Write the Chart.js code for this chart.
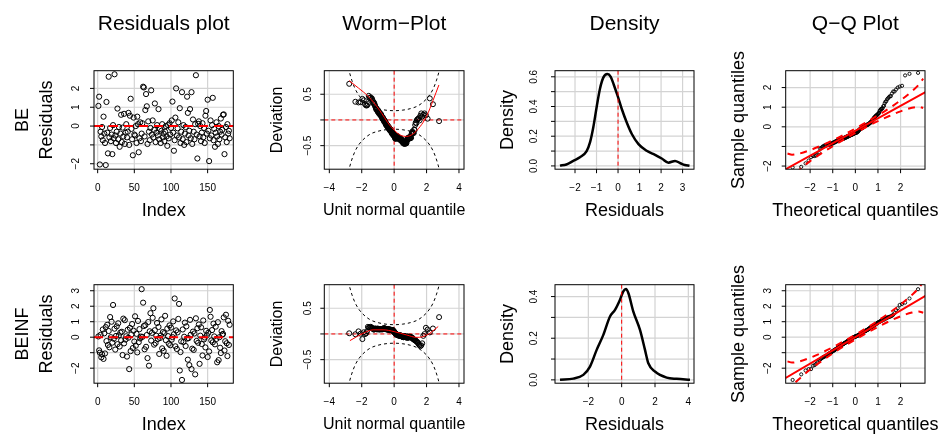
<!DOCTYPE html>
<html>
<head>
<meta charset="utf-8">
<script src="https://cdn.jsdelivr.net/npm/chart.js@4.4.1/dist/chart.umd.min.js"></script>
<style>
  html, body { margin: 0; padding: 0; background: #fff; }
  #wrap { position: relative; width: 941px; height: 435px; overflow: hidden; }
  #wrap canvas { position: absolute; left: 0; top: 0; }
</style>
</head>
<body>
<div id="wrap"></div>
<script>
// Residual diagnostics for the BE and BEINF fits (4 plots per row)

const W = 941, H = 435;
const FONT = "'Liberation Sans', Arial, Helvetica, sans-serif";
const GRID = '#d3d3d3';

// ---- residuals, in index order ----
const residBE = [
  1.07, 1.56, -2.04, -0.3, -0.55, -0.05, -0.75, 0.5, -0.4, -0.9,
  -2.07, 1.28, -0.35, -1.45, 2.62, -0.6, -0.1, -0.8, -0.45, -1.49,
  0.05, -0.65, 2.75, -0.5, -0.9, -0.3, 0.93, -0.7, -0.05, -1.1,
  -0.4, 0.6, -0.85, -0.08, -0.55, 0.65, -0.95, -0.35, 0.1, -0.6,
  -0.3, 0.7, -1.0, 0.55, 1.45, -0.15, -0.7, -1.55, 0.45, -0.45,
  -0.5, 0.0, -0.9, 0.5, 0.1, -1.39, -0.65, 0.2, -0.8, -0.4,
  0.15, 2.09, 2.05, -0.55, 0.85, 1.7, 1.05, -0.95, 0.25, -0.3,
  -0.75, -0.1, 1.9, -0.45, 0.3, -0.6, -0.2, 1.2, -0.85, -0.35,
  0.05, -0.5, 0.9, -0.7, -0.15, -0.9, -0.25, 0.1, -0.6, -0.4,
  -0.8, -0.3, 0.0, -0.55, -1.05, 0.05, -0.65, 0.15, -0.45, -0.1,
  0.3, 1.3, -0.35, -1.31, -0.75, 0.45, 2.0, -0.5, -0.12, 0.2,
  -0.6, 0.95, -0.9, -0.3, 1.8, -0.7, 0.05, -1.0, -0.4, -0.05,
  -0.85, 1.56, 0.7, -0.5, -0.25, 0.9, -0.65, 1.8, -0.95, 0.35,
  -0.3, -0.7, 0.1, 2.7, -0.45, -1.72, 0.12, 0.25, -0.55, 0.0,
  -0.8, -0.35, 0.15, -0.6, -0.1, -0.9, 0.55, 0.8, -0.4, 1.4,
  -0.25, -1.86, -0.65, 0.3, -0.5, 0.05, 1.5, -0.75, -0.15, -1.1,
  -0.35, 0.2, -0.55, -0.95, 0.0, -0.7, -0.3, 0.4, -0.45, -0.2,
  0.6, 0.62, -1.49, -0.6, -0.05, -0.85, 0.1, -0.4, -0.25, -0.65
];
const residBEINF = [
  0.05, -0.85, -1.0, 0.15, -1.3, -1.1, 0.5, -1.4, 0.25, -1.05,
  0.65, -0.25, 0.8, -0.5, 0.4, -0.65, 1.3, 0.0, 1.0, -0.35,
  2.08, -0.1, 0.55, -0.8, 0.08, 0.7, -0.45, 0.9, 0.12, -0.6,
  0.3, -0.2, 0.35, -1.15, 1.2, -0.4, 1.1, -0.15, 0.06, -1.25,
  0.48, -0.03, -2.06, 0.6, -0.9, 0.18, 0.85, -0.7, 0.42, -0.28,
  1.35, -0.55, 0.22, -0.98, 1.05, -0.32, 0.52, -0.08, 0.04, 3.1,
  0.02, 2.23, 0.72, -0.78, 0.78, -0.62, 0.14, -1.35, 0.98, -1.84,
  0.38, 1.55, -0.22, 0.28, 1.25, 1.87, -0.48, 0.45, -0.38, 0.09,
  0.92, -0.12, 0.66, -1.08, -0.05, 0.11, 1.15, -0.72, 0.33, -0.88,
  0.26, 1.38, -0.19, -1.2, 0.56, 0.07, -0.42, 0.76, -0.52, 0.62,
  -0.16, 0.01, 1.02, 0.19, 2.5, -0.59, 0.44, -0.76, 0.31, 1.18,
  2.15, -2.15, -0.96, -0.27, -2.76, 0.5, -0.31, 0.03, 0.94, -0.57,
  0.7, -0.09, -1.45, -0.06, -1.8, 1.12, 0.16, -2.06, -0.74, 0.36,
  -0.82, 0.24, -2.4, 1.22, -0.24, 0.58, -0.36, 0.82, -1.72, 0.1,
  0.64, -0.44, -1.18, 1.08, -0.14, -0.02, -0.66, 0.41, 0.13, -1.28,
  0.29, -0.92, 1.76, 1.32, -0.21, 0.46, -0.33, 0.88, 0.05, -0.46,
  0.68, -0.11, -1.62, 0.97, -1.48, 0.0, -0.68, -1.02, 0.39, 0.17,
  0.21, 1.28, -0.86, -0.26, 1.45, -0.39, -1.22, 1.06, -0.5, 0.8
];

// ---- kernel density curves ----
const densBE_x = [-2.70, -2.40, -2.08, -1.77, -1.46, -1.30, -1.15, -0.99, -0.84, -0.68, -0.50, -0.34, -0.19,
  -0.03, 0.17, 0.40, 0.64, 0.95, 1.33, 1.72, 2.03, 2.34, 2.65, 2.90, 3.10, 3.32];
const densBE_y = [0.002, 0.010, 0.034, 0.058, 0.100, 0.160, 0.260, 0.400, 0.520, 0.596, 0.618, 0.600, 0.543,
  0.476, 0.385, 0.294, 0.215, 0.147, 0.102, 0.075, 0.050, 0.022, 0.034, 0.018, 0.006, 0.001];
const densBEINF_x = [-3.70, -2.90, -2.30, -1.90, -1.50, -1.10, -0.70, -0.40, -0.10, 0.10, 0.26, 0.40, 0.70,
  1.10, 1.40, 1.60, 2.00, 2.70, 3.30, 4.10];
const densBEINF_y = [0.001, 0.006, 0.024, 0.064, 0.144, 0.216, 0.304, 0.336, 0.385, 0.425, 0.436, 0.417, 0.328,
  0.240, 0.144, 0.080, 0.040, 0.011, 0.005, 0.001];

// ---- worm plot: confidence band and fitted cubic ----
const wormBandX = [-3.0, -2.8, -2.6, -2.4, -2.2, -2.0, -1.5, -1.0, -0.5, 0, 0.5, 1.0, 1.5, 2.0, 2.2, 2.4, 2.6, 2.8, 3.0];
const wormBandUpper = [1.25, 0.98, 0.76, 0.6, 0.49, 0.41, 0.28, 0.22, 0.19, 0.18, 0.19, 0.22, 0.28, 0.41, 0.49, 0.6, 0.76, 0.98, 1.25];
const wormBandLower = [-1.25, -0.98, -0.76, -0.6, -0.49, -0.41, -0.28, -0.22, -0.19, -0.18, -0.19, -0.22, -0.28, -0.41, -0.49, -0.6, -0.76, -0.98, -1.25];
const wormFitBE_x = [-2.78, -2.2, -1.6, -0.9, -0.3, 0.35, 0.77, 1.17, 1.6, 2.0, 2.4, 2.76];
const wormFitBE_y = [0.765, 0.62, 0.46, 0.19, -0.09, -0.29, -0.32, -0.27, -0.13, 0.07, 0.38, 0.68];
const wormFitBEINF_x = [-2.73, -1.91, -1.3, -0.68, 0, 0.77, 1.38, 1.79, 2.2, 2.72];
const wormFitBEINF_y = [-0.13, 0.013, 0.08, 0.08, 0.046, -0.02, -0.066, -0.053, 0.013, 0.145];

// ---- Q-Q reference line and envelope ----
const qqLineX = [-3.1, 3.1];
const qqLineBE_y = [-2.17, 1.77];
const qqLineBEINF_y = [-2.65, 2.67];
const qqEnvX = [-3, -2.8, -2.5, -2, -1.5, -1, -0.5, 0, 0.5, 1, 1.5, 2, 2.5, 2.8, 3];
const qqEnvBE_upper = [-1.36, -1.42, -1.37, -1.19, -0.95, -0.69, -0.40, -0.085, 0.24, 0.59, 0.95, 1.35, 1.81, 2.14, 2.46];
const qqEnvBE_lower = [-2.86, -2.54, -2.21, -1.75, -1.35, -0.99, -0.64, -0.315, 0.0, 0.29, 0.55, 0.79, 0.97, 1.02, 0.96];
const qqEnvBEINF_upper = [-1.56, -1.64, -1.57, -1.33, -1.01, -0.65, -0.25, 0.165, 0.60, 1.07, 1.57, 2.11, 2.73, 3.16, 3.58];
const qqEnvBEINF_lower = [-3.56, -3.14, -2.71, -2.09, -1.55, -1.05, -0.58, -0.145, 0.27, 0.67, 1.03, 1.35, 1.59, 1.66, 1.58];

// ---- axis ticks and their labels ('' = tick without label) ----
const indexTicks = [0, 50, 100, 150];
const indexLabels = ['0', '50', '100', '150'];
const residTicksBE = [-2, -1, 0, 1, 2];
const residLabelsBE = ['\u22122', '', '0', '1', '2'];
const residTicksBEINF = [-2, -1, 0, 1, 2, 3];
const residLabelsBEINF = ['\u22122', '', '0', '1', '2', '3'];
const wormXTicks = [-4, -2, 0, 2, 4];
const wormXLabels = ['\u22124', '\u22122', '0', '2', '4'];
const wormYTicks = [-0.5, 0, 0.5];
const wormYLabels = ['\u22120.5', '', '0.5'];
const densXTicksBE = [-2, -1, 0, 1, 2, 3];
const densXLabelsBE = ['\u22122', '\u22121', '0', '1', '2', '3'];
const densXTicksBEINF = [-2, 0, 2, 4];
const densXLabelsBEINF = ['\u22122', '0', '2', '4'];
const densYTicksBE = [0, 0.1, 0.2, 0.3, 0.4, 0.5, 0.6];
const densYLabelsBE = ['0.0', '', '0.2', '', '0.4', '', '0.6'];
const densYTicksBEINF = [0, 0.1, 0.2, 0.3, 0.4];
const densYLabelsBEINF = ['0.0', '', '0.2', '', '0.4'];
const qqXTicks = [-2, -1, 0, 1, 2];
const qqXLabels = ['\u22122', '\u22121', '0', '1', '2'];

// ---- layout (page pixels) ----
const ROWS = [{ top: 70.7, bottom: 169.2 }, { top: 284.7, bottom: 383.2 }];
const COLS = [
  { left: 94, right: 233.3, yLab: 17.3 },
  { left: 324.3, right: 464, yLab: 16 },
  { left: 555, right: 694, yLab: 20.5 },
  { left: 785.7, right: 925, yLab: 17.4 }
];

// inverse normal cdf (Acklam), for the theoretical quantiles
function qnorm(p) {
  const a = [-3.969683028665376e+01, 2.209460984245205e+02, -2.759285104469687e+02, 1.383577518672690e+02, -3.066479806614716e+01, 2.506628277459239e+00];
  const b = [-5.447609879822406e+01, 1.615858368580409e+02, -1.556989798598866e+02, 6.680131188771972e+01, -1.328068155288572e+01];
  const c = [-7.784894002430293e-03, -3.223964580411365e-01, -2.400758277161838e+00, -2.549732539343734e+00, 4.374664141464968e+00, 2.938163982698783e+00];
  const d = [7.784695709041462e-03, 3.224671290700398e-01, 2.445134137142996e+00, 3.754408661907416e+00];
  const lo = 0.02425;
  if (p < lo) {
    const q = Math.sqrt(-2 * Math.log(p));
    return (((((c[0] * q + c[1]) * q + c[2]) * q + c[3]) * q + c[4]) * q + c[5]) / ((((d[0] * q + d[1]) * q + d[2]) * q + d[3]) * q + 1);
  }
  if (p > 1 - lo) return -qnorm(1 - p);
  const q = p - 0.5, r = q * q;
  return (((((a[0] * r + a[1]) * r + a[2]) * r + a[3]) * r + a[4]) * r + a[5]) * q / (((((b[0] * r + b[1]) * r + b[2]) * r + b[3]) * r + b[4]) * r + 1);
}

function qqPoints(res) {
  const s = [...res].sort((u, v) => u - v);
  const n = s.length;
  return s.map((v, i) => ({ x: qnorm((i + 0.5) / n), y: v }));
}

const xy = (xs, ys) => xs.map((x, i) => ({ x, y: ys[i] }));

function drawRef(ctx, a, x, y, r) {
  ctx.save();
  ctx.strokeStyle = r.color;
  ctx.lineWidth = r.width;
  ctx.setLineDash(r.dash);
  ctx.beginPath();
  if (r.axis === 'x') {
    const px = x.getPixelForValue(r.value);
    ctx.moveTo(px, a.top); ctx.lineTo(px, a.bottom);
  } else {
    const py = y.getPixelForValue(r.value);
    ctx.moveTo(a.left, py); ctx.lineTo(a.right, py);
  }
  ctx.stroke();
  ctx.restore();
}

function framePlugin(p) {
  return {
    id: 'frame',
    beforeDatasetsDraw(chart) {
      const { ctx, chartArea: a, scales: { x, y } } = chart;
      ctx.save();
      ctx.strokeStyle = GRID;
      ctx.lineWidth = 1.2;
      ctx.beginPath();
      p.xTicks.forEach(v => { const px = x.getPixelForValue(v); ctx.moveTo(px, a.top); ctx.lineTo(px, a.bottom); });
      p.yTicks.forEach(v => { const py = y.getPixelForValue(v); ctx.moveTo(a.left, py); ctx.lineTo(a.right, py); });
      ctx.stroke();
      ctx.restore();
      p.refs.filter(r => !r.over).forEach(r => drawRef(ctx, a, x, y, r));
    },
    afterDatasetsDraw(chart) {
      const { ctx, chartArea: a, scales: { x, y } } = chart;
      p.refs.filter(r => r.over).forEach(r => drawRef(ctx, a, x, y, r));
      ctx.save();
      ctx.strokeStyle = '#000';
      ctx.lineWidth = 1;
      ctx.strokeRect(a.left, a.top, a.right - a.left, a.bottom - a.top);
      ctx.beginPath();
      p.xTicks.forEach(v => { const px = x.getPixelForValue(v); ctx.moveTo(px, a.bottom); ctx.lineTo(px, a.bottom + 4); });
      p.yTicks.forEach(v => { const py = y.getPixelForValue(v); ctx.moveTo(a.left, py); ctx.lineTo(a.left - 4, py); });
      ctx.stroke();

      ctx.fillStyle = '#000';
      ctx.textAlign = 'center';
      ctx.textBaseline = 'middle';
      ctx.font = `10px ${FONT}`;
      p.xTicks.forEach((v, i) => { if (p.xLabels[i]) ctx.fillText(p.xLabels[i], x.getPixelForValue(v), a.bottom + 19.1); });
      p.yTicks.forEach((v, i) => {
        if (!p.yLabels[i]) return;
        ctx.save();
        ctx.translate(a.left - p.yLab, y.getPixelForValue(v));
        ctx.rotate(-Math.PI / 2);
        ctx.fillText(p.yLabels[i], 0, 0);
        ctx.restore();
      });

      ctx.font = `${p.titleSize}px ${FONT}`;
      ctx.fillText(p.xTitle, (a.left + a.right) / 2, a.bottom + 41.5);
      ctx.save();
      ctx.translate(a.left - 47, (a.top + a.bottom) / 2);
      ctx.rotate(-Math.PI / 2);
      ctx.fillText(p.yTitle, 0, 0);
      ctx.restore();
      ctx.restore();
    },
    afterDraw(chart) {
      if (!p.page) return;
      const ctx = chart.ctx;
      ctx.save();
      ctx.fillStyle = '#000';
      ctx.textAlign = 'center';
      ctx.textBaseline = 'middle';
      ctx.font = `21px ${FONT}`;
      ctx.fillText('Residuals plot', 163.7, 24);
      ctx.fillText('Worm\u2212Plot', 394.2, 24);
      ctx.fillText('Density', 624.5, 24);
      ctx.fillText('Q\u2212Q Plot', 855.3, 24);
      ctx.font = `18px ${FONT}`;
      [['BE', 120], ['BEINF', 334]].forEach(([t, cy]) => {
        ctx.save();
        ctx.translate(23, cy);
        ctx.rotate(-Math.PI / 2);
        ctx.fillText(t, 0, 0);
        ctx.restore();
      });
      ctx.restore();
    }
  };
}

const wrap = document.getElementById('wrap');

function makePanel(row, col, p) {
  const canvas = document.createElement('canvas');
  canvas.width = W;
  canvas.height = H;
  wrap.appendChild(canvas);
  const R = ROWS[row], C = COLS[col];
  p.yLab = C.yLab;
  return new Chart(canvas, {
    type: 'scatter',
    data: { datasets: p.datasets },
    options: {
      responsive: false,
      animation: false,
      events: [],
      layout: { padding: { left: C.left, top: R.top, right: W - C.right, bottom: H - R.bottom } },
      scales: {
        x: { type: 'linear', display: false, min: p.x[0], max: p.x[1] },
        y: { type: 'linear', display: false, min: p.y[0], max: p.y[1] }
      },
      plugins: { legend: { display: false }, tooltip: { enabled: false } }
    },
    plugins: [framePlugin(p)]
  });
}

const openCircles = (data, r, bw) => ({
  data, showLine: false, pointRadius: r, pointBorderWidth: bw,
  pointBorderColor: '#000', pointBackgroundColor: 'rgba(0,0,0,0)', order: 5
});
const curve = (data, color, width, dash, order) => ({
  data, showLine: true, pointRadius: 0, borderColor: color, borderWidth: width,
  borderDash: dash, cubicInterpolationMode: 'monotone', order
});

const rows = [
  {
    resid: residBE, residY: [-2.29, 2.94], residTicks: residTicksBE, residLabels: residLabelsBE,
    wormFit: xy(wormFitBE_x, wormFitBE_y),
    dens: xy(densBE_x, densBE_y), densX: [-2.93, 3.53], densY: [-0.022, 0.641],
    densXTicks: densXTicksBE, densXLabels: densXLabelsBE, densYTicks: densYTicksBE, densYLabels: densYLabelsBE,
    qqY: [-2.16, 2.86], qqLine: qqLineBE_y, qqUp: qqEnvBE_upper, qqLo: qqEnvBE_lower
  },
  {
    resid: residBEINF, residY: [-2.97, 3.39], residTicks: residTicksBEINF, residLabels: residLabelsBEINF,
    wormFit: xy(wormFitBEINF_x, wormFitBEINF_y),
    dens: xy(densBEINF_x, densBEINF_y), densX: [-4.0, 4.34], densY: [-0.016, 0.457],
    densXTicks: densXTicksBEINF, densXLabels: densXLabelsBEINF, densYTicks: densYTicksBEINF, densYLabels: densYLabelsBEINF,
    qqY: [-2.97, 3.39], qqLine: qqLineBEINF_y, qqUp: qqEnvBEINF_upper, qqLo: qqEnvBEINF_lower
  }
];

rows.forEach((d, r) => {
  const qq = qqPoints(d.resid);
  const worm = qq.map(pt => ({ x: pt.x, y: pt.y - pt.x }));

  makePanel(r, 0, {
    page: r === 0,
    x: [-5, 185], y: d.residY,
    xTicks: indexTicks, xLabels: indexLabels, yTicks: d.residTicks, yLabels: d.residLabels,
    xTitle: 'Index', yTitle: 'Residuals', titleSize: 18,
    refs: [{ axis: 'y', value: 0, color: '#ff0000', width: 2, dash: [9, 6], over: true }],
    datasets: [openCircles(d.resid.map((v, i) => ({ x: i + 1, y: v })), 2.6, 1)]
  });

  makePanel(r, 1, {
    x: [-4.31, 4.31], y: [-0.958, 0.958],
    xTicks: wormXTicks, xLabels: wormXLabels, yTicks: wormYTicks, yLabels: wormYLabels,
    xTitle: 'Unit normal quantile', yTitle: 'Deviation', titleSize: 16,
    refs: [
      { axis: 'x', value: 0, color: '#ff0000', width: 1, dash: [4, 3], over: false },
      { axis: 'y', value: 0, color: '#ff0000', width: 1, dash: [4, 3], over: false }
    ],
    datasets: [
      openCircles(worm, 2.5, 1),
      curve(xy(wormBandX, wormBandUpper), '#000', 1, [3, 3], 3),
      curve(xy(wormBandX, wormBandLower), '#000', 1, [3, 3], 3),
      curve(d.wormFit, '#ff0000', 1, [], 1)
    ]
  });

  makePanel(r, 2, {
    x: d.densX, y: d.densY,
    xTicks: d.densXTicks, xLabels: d.densXLabels, yTicks: d.densYTicks, yLabels: d.densYLabels,
    xTitle: 'Residuals', yTitle: 'Density', titleSize: 18,
    refs: [{ axis: 'x', value: 0, color: '#ff0000', width: 1, dash: [4, 3], over: true }],
    datasets: [curve(d.dens, '#000', 2.5, [], 2)]
  });

  makePanel(r, 3, {
    x: [-3.08, 3.08], y: d.qqY,
    xTicks: qqXTicks, xLabels: qqXLabels, yTicks: d.residTicks, yLabels: d.residLabels,
    xTitle: 'Theoretical quantiles', yTitle: 'Sample quantiles', titleSize: 18,
    refs: [],
    datasets: [
      openCircles(qq, 1.6, 0.9),
      curve(xy(qqLineX, d.qqLine), '#ff0000', 2, [], 1),
      curve(xy(qqEnvX, d.qqUp), '#ff0000', 2, [7, 6], 1),
      curve(xy(qqEnvX, d.qqLo), '#ff0000', 2, [7, 6], 1)
    ]
  });
});
</script>
</body>
</html>
